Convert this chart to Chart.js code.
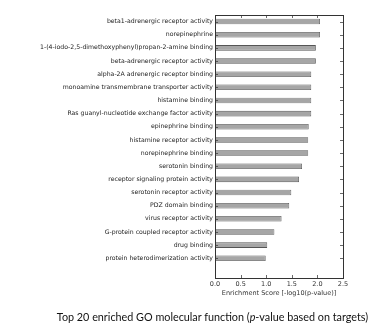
<!DOCTYPE html>
<html><head><meta charset="utf-8">
<script src="https://cdn.jsdelivr.net/npm/chart.js@4/dist/chart.umd.min.js"></script>
<style>
html,body{margin:0;padding:0;background:#fff;}
#wrap{position:relative;width:378px;height:333px;overflow:hidden;}
#cap{position:absolute;left:0;width:425px;top:311px;line-height:11px;text-align:center;font-family:Lato,"Open Sans",sans-serif;font-size:10.8px;color:#111;white-space:nowrap;}
</style></head>
<body>
<div id="wrap"><canvas id="c" width="378" height="333"></canvas>
<div id="cap">Top 20 enriched GO molecular function (<i>p</i>-value based on targets)</div></div>
<script>
const categories = [
 "beta1-adrenergic receptor activity",
 "norepinephrine",
 "1-(4-iodo-2,5-dimethoxyphenyl)propan-2-amine binding",
 "beta-adrenergic receptor activity",
 "alpha-2A adrenergic receptor binding",
 "monoamine transmembrane transporter activity",
 "histamine binding",
 "Ras guanyl-nucleotide exchange factor activity",
 "epinephrine binding",
 "histamine receptor activity",
 "norepinephrine binding",
 "serotonin binding",
 "receptor signaling protein activity",
 "serotonin receptor activity",
 "PDZ domain binding",
 "virus receptor activity",
 "G-protein coupled receptor activity",
 "drug binding",
 "protein heterodimerization activity",
 ""
];
const scores = [2.05,2.05,1.97,1.97,1.88,1.88,1.88,1.88,1.83,1.82,1.82,1.70,1.64,1.49,1.45,1.30,1.16,1.02,0.99,null];
const xTicks = [0.0,0.5,1.0,1.5,2.0,2.5];
const xTitle = "Enrichment Score [-log10(p-value)]";

const FONT = "DejaVu Sans";
const innerTicks = {
  id:'innerTicks',
  afterDraw(chart){
    const ctx = chart.ctx, a = chart.chartArea;
    const xs = chart.scales.x, ys = chart.scales.y;
    ctx.save();
    ctx.strokeStyle = '#444'; ctx.lineWidth = 0.8;
    ctx.beginPath();
    xTicks.forEach(v=>{
      const px = Math.round(xs.getPixelForValue(v))+0.5;
      ctx.moveTo(px,a.bottom); ctx.lineTo(px,a.bottom-3);
      ctx.moveTo(px,a.top); ctx.lineTo(px,a.top+3);
    });
    categories.forEach((c,i)=>{
      if(!c) return;
      const py = Math.round(ys.getPixelForValue(i))+0.5;
      ctx.moveTo(a.left,py); ctx.lineTo(a.left+3,py);
      ctx.moveTo(a.right,py); ctx.lineTo(a.right-3,py);
    });
    ctx.stroke();
    ctx.strokeStyle = '#333'; ctx.lineWidth = 1;
    ctx.strokeRect(Math.round(a.left)+0.5, Math.round(a.top)+0.5, Math.round(a.right-a.left), Math.round(a.bottom-a.top));
    ctx.restore();
  }
};

new Chart(document.getElementById('c'), {
  type:'bar',
  data:{ labels: categories, datasets:[{ data: scores, backgroundColor:'#a6a6a6', borderColor:'#555', borderWidth:0.8, barPercentage:0.42, categoryPercentage:1.0 }]},
  options:{
    indexAxis:'y', responsive:false, animation:false, devicePixelRatio:1,
    layout:{ padding:{ left:0, right:35, top:15, bottom:0 } },
    plugins:{ legend:{display:false}, tooltip:{enabled:false} },
    scales:{
      x:{ min:0, max:2.5, afterBuildTicks(s){ s.ticks = xTicks.map(v=>({value:v})); },
        grid:{ display:false, drawTicks:false }, border:{display:false},
        ticks:{ font:{family:FONT,size:6.5}, color:'#333', padding:2, maxRotation:0, callback:v=>Number(v).toFixed(1) },
        title:{ display:true, text:xTitle, font:{family:FONT,size:6.5}, color:'#333', padding:{top:1,bottom:35.5} },
        afterFit(s){ s.height = 333-15-263; }
      },
      y:{ grid:{ display:false, drawTicks:false }, border:{display:false},
        ticks:{ font:{family:FONT,size:6.2}, color:'#222', padding:2, autoSkip:false },
        afterFit(s){ s.width = 215; }
      }
    }
  },
  plugins:[innerTicks]
});
</script>
</body></html>
